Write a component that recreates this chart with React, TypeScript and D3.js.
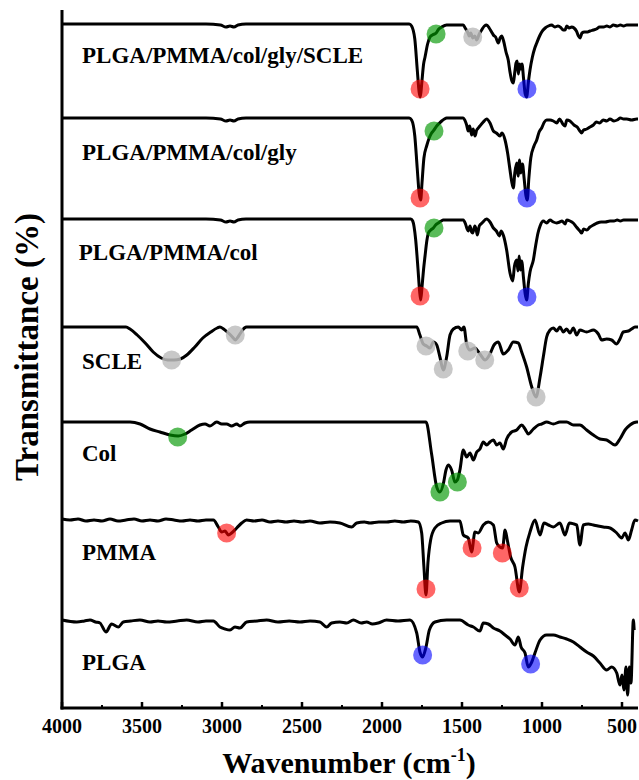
import React from "react";
import * as d3 from "d3";

// ---------- data ----------
const xDomain: [number, number] = [4000, 400];
const majorTicks = [4000, 3500, 3000, 2500, 2000, 1500, 1000, 500];
const minorTicks = [3750, 3250, 2750, 2250, 1750, 1250, 750];

const seriesNames = [
  "PLGA/PMMA/col/gly/SCLE",
  "PLGA/PMMA/col/gly",
  "PLGA/PMMA/col",
  "SCLE",
  "Col",
  "PMMA",
  "PLGA",
];
// baseline transmittance level of each stacked spectrum (a.u.)
const baselines = [684, 590, 489, 381, 286, 189, 88];
// label level (a.u.)
const labelLevels = [645, 548, 448, 339, 247, 148, 38];
const labelX = [4000, 4000, 4020, 4000, 4000, 4000, 4000];

// spectra: [wavenumber, depth below baseline (a.u.)]
const specScleComposite: [number, number][] = [
  [4000, 0], [3600, 0], [3100, 0], [3010, 1], [2975, 3], [2950, 2], [2925, 3], [2900, 1], [2850, 0],
  [1830, 0], [1815, 2], [1795, 15], [1780, 45], [1768, 68], [1760, 73], [1752, 60], [1740, 40],
  [1731, 33], [1715, 20], [1700, 13], [1685, 11], [1662, 9], [1645, 5], [1627, 3], [1596, 1],
  [1492, 1], [1480, 4], [1465, 8], [1455, 12], [1445, 9], [1433, 14], [1420, 12], [1408, 16],
  [1392, 10], [1377, 6], [1360, 2], [1346, 1], [1330, 4], [1315, 8], [1304, 11], [1290, 13],
  [1273, 19], [1262, 14], [1252, 12], [1240, 17], [1225, 28], [1211, 36], [1200, 48], [1190, 56],
  [1179, 59], [1170, 48], [1162, 39], [1155, 37], [1148, 50], [1140, 40], [1133, 45], [1125, 40],
  [1115, 55], [1105, 70], [1096, 73], [1085, 58], [1075, 46], [1060, 33], [1045, 24], [1033, 19],
  [1015, 12], [1002, 8], [980, 4], [960, 2], [940, 1], [920, 3], [900, 2], [880, 4], [868, 6],
  [856, 6], [845, 2], [830, 4], [815, 3], [800, 4], [785, 7], [772, 12], [762, 14], [750, 9],
  [735, 8], [715, 8], [700, 7], [680, 6], [660, 5], [640, 3], [615, 3], [595, 2], [575, 3],
  [554, 1], [530, 2], [510, 1], [490, 2], [470, 1], [440, 1], [408, 1], [400, 1],
];
const specColGly: [number, number][] = [
  [4000, 0], [3600, 0], [3100, 0], [3010, 1], [2975, 3], [2950, 2], [2925, 3], [2900, 1], [2850, 0],
  [1830, 0], [1815, 2], [1795, 18], [1780, 50], [1768, 75], [1758, 82], [1750, 65], [1738, 40],
  [1721, 28], [1705, 20], [1690, 15], [1675, 12], [1658, 8], [1640, 5], [1627, 3], [1610, 1],
  [1596, 0], [1492, 0], [1480, 3], [1471, 7], [1461, 13], [1452, 8], [1440, 17], [1430, 11],
  [1419, 18], [1408, 12], [1398, 10], [1388, 8], [1367, 4], [1346, 1], [1325, 5], [1304, 13],
  [1285, 15], [1263, 18], [1250, 15], [1231, 22], [1215, 35], [1200, 52], [1190, 63], [1179, 70],
  [1170, 55], [1158, 45], [1150, 58], [1140, 42], [1133, 55], [1122, 46], [1112, 60], [1100, 78],
  [1092, 82], [1082, 60], [1070, 40], [1050, 28], [1033, 22], [1018, 14], [1002, 10], [985, 4],
  [971, 2], [950, 2], [929, 3], [908, 5], [890, 1], [870, 6], [856, 8], [845, 2], [825, 3],
  [800, 7], [780, 9], [763, 13], [752, 15], [740, 12], [720, 11], [700, 9], [679, 7], [660, 4],
  [640, 5], [617, 2], [595, 3], [575, 1], [550, 3], [530, 2], [510, 0], [490, 1], [470, 1],
  [440, 2], [408, 1], [400, 1],
];
const specCol3: [number, number][] = [
  [4000, 0], [3600, 0], [3100, 0], [3010, 1], [2975, 3], [2950, 2], [2925, 3], [2900, 1], [2850, 0],
  [1820, 0], [1808, 2], [1790, 20], [1775, 50], [1765, 72], [1758, 81], [1750, 68], [1740, 50],
  [1731, 37], [1720, 22], [1710, 14], [1695, 11], [1679, 9], [1665, 6], [1648, 4], [1630, 2],
  [1617, 1], [1492, 1], [1478, 5], [1468, 10], [1461, 12], [1450, 7], [1440, 13], [1433, 14],
  [1420, 7], [1412, 10], [1404, 16], [1392, 7], [1375, 4], [1346, 0], [1325, 3], [1304, 9],
  [1285, 12], [1267, 17], [1255, 12], [1240, 17], [1221, 31], [1200, 54], [1183, 62], [1172, 47],
  [1158, 41], [1150, 52], [1143, 37], [1135, 51], [1127, 42], [1115, 60], [1105, 75], [1096, 81],
  [1085, 64], [1075, 53], [1054, 41], [1040, 27], [1025, 14], [1012, 7], [992, 2], [971, 4],
  [950, 1], [929, 3], [908, 4], [890, 3], [875, 2], [856, 5], [845, 1], [825, 2], [805, 4],
  [785, 8], [763, 12], [752, 14], [740, 10], [720, 11], [700, 8], [679, 6], [655, 4], [630, 3],
  [605, 3], [575, 2], [550, 2], [530, 1], [510, 2], [490, 1], [470, 1], [440, 1], [408, 1], [400, 1],
];
const specScle: [number, number][] = [
  [4000, 0], [3600, 0], [3575, 2], [3530, 8], [3480, 16], [3430, 25], [3380, 31], [3340, 33],
  [3300, 33], [3260, 32], [3220, 28], [3170, 20], [3120, 11], [3070, 5], [3030, 1], [3013, 0],
  [2990, 2], [2960, 6], [2935, 10], [2917, 13], [2900, 10], [2880, 5], [2860, 1], [2846, 0],
  [1783, 0], [1763, 8], [1742, 17], [1721, 19], [1700, 21], [1679, 15], [1658, 18], [1638, 30],
  [1617, 43], [1596, 30], [1575, 8], [1554, 2], [1523, 0], [1502, 3], [1488, 0], [1471, 17],
  [1450, 23], [1419, 21], [1388, 27], [1356, 33], [1325, 27], [1300, 18], [1273, 15], [1242, 27],
  [1211, 23], [1179, 15], [1148, 16], [1127, 25], [1096, 40], [1064, 60], [1037, 70], [1012, 50],
  [992, 30], [971, 10], [950, 3], [929, 1], [908, 4], [888, 0], [867, 5], [846, 2], [825, 6],
  [804, 1], [783, 8], [763, 3], [721, 5], [679, 3], [648, 7], [627, 13], [596, 12], [565, 13],
  [533, 17], [513, 12], [492, 5], [460, 4], [440, 2], [419, 0], [400, 0],
];
const specCol: [number, number][] = [
  [4000, 0], [3575, 0], [3512, 2], [3450, 7], [3388, 10], [3325, 13], [3273, 14], [3231, 12],
  [3190, 8], [3138, 3], [3106, 2], [3075, 4], [3033, 0], [3002, 2], [2971, 2], [2940, 4],
  [2908, 2], [2888, 4], [2856, 1], [2825, 0], [1725, 0], [1690, 32], [1658, 65], [1638, 70],
  [1617, 62], [1600, 48], [1586, 43], [1565, 48], [1544, 60], [1529, 58], [1513, 48], [1492, 28],
  [1471, 35], [1450, 31], [1429, 38], [1408, 30], [1388, 27], [1367, 20], [1346, 23], [1325, 20],
  [1304, 18], [1283, 23], [1263, 21], [1242, 27], [1221, 17], [1190, 10], [1158, 8], [1127, 3],
  [1106, 7], [1086, 12], [1054, 7], [1023, 3], [1002, 2], [971, 0], [929, 2], [888, 0], [846, 0],
  [804, 3], [763, 3], [721, 8], [679, 13], [638, 17], [596, 18], [544, 23], [513, 17], [481, 8],
  [450, 3], [408, 0], [400, 0],
];
const specPmma: [number, number][] = [
  [4000, 0], [3950, 1], [3900, 0], [3850, 2], [3800, 1], [3750, 2], [3700, 0], [3650, 2],
  [3600, 1], [3550, 0], [3500, 2], [3450, 1], [3400, 2], [3350, 0], [3300, 1], [3250, 2],
  [3200, 1], [3150, 2], [3100, 1], [3054, 1], [3023, 8], [3002, 13], [2981, 12], [2960, 16],
  [2940, 14], [2908, 9], [2877, 4], [2846, 1], [2800, 2], [2750, 1], [2700, 3], [2650, 2],
  [2600, 3], [2550, 2], [2500, 3], [2450, 2], [2388, 4], [2325, 3], [2263, 4], [2190, 8],
  [2158, 4], [2110, 3], [2075, 4], [2020, 3], [1971, 3], [1920, 2], [1867, 3], [1820, 2],
  [1773, 3], [1752, 14], [1738, 48], [1725, 76], [1713, 44], [1696, 21], [1669, 9], [1627, 4],
  [1575, 2], [1513, 2], [1492, 16], [1461, 19], [1440, 33], [1419, 13], [1398, 14], [1367, 6],
  [1336, 3], [1304, 6], [1283, 24], [1263, 28], [1246, 29], [1231, 11], [1217, 21], [1196, 38],
  [1169, 48], [1142, 73], [1121, 48], [1100, 28], [1075, 13], [1044, 1], [1012, 16], [988, 4],
  [960, 6], [929, 8], [888, 4], [856, 16], [829, 4], [800, 5], [783, 6], [763, 26], [742, 6],
  [710, 5], [679, 6], [650, 7], [617, 8], [575, 9], [533, 14], [502, 19], [481, 14], [460, 21],
  [440, 11], [419, 1], [400, 2],
];
const specPlga: [number, number][] = [
  [4000, 0], [3908, 2], [3860, 1], [3825, 0], [3790, 2], [3763, 3], [3725, 12], [3690, 4],
  [3648, 7], [3617, 2], [3570, 1], [3513, 0], [3450, 2], [3400, 1], [3346, 2], [3280, 1],
  [3221, 0], [3150, 2], [3100, 1], [3054, 1], [3013, 7], [2981, 9], [2950, 10], [2919, 7],
  [2888, 8], [2846, 2], [2780, 1], [2721, 0], [2650, 2], [2580, 1], [2513, 2], [2450, 1],
  [2388, 2], [2346, 7], [2315, 3], [2263, 2], [2220, 3], [2179, 0], [2130, 3], [2096, 2],
  [2060, 4], [2023, 3], [1971, 0], [1900, 1], [1825, 0], [1783, 13], [1763, 32], [1746, 37],
  [1725, 27], [1704, 10], [1669, 2], [1596, 0], [1513, 0], [1461, 5], [1429, 7], [1388, 11],
  [1367, 3], [1336, 4], [1304, 8], [1263, 11], [1231, 15], [1200, 19], [1169, 25], [1148, 17],
  [1131, 27], [1106, 33], [1086, 47], [1064, 42], [1044, 33], [1012, 20], [971, 15], [929, 15],
  [888, 17], [846, 19], [804, 22], [763, 27], [721, 32], [679, 36], [638, 43], [596, 50],
  [565, 47], [533, 53], [513, 65], [500, 55], [488, 70], [475, 47], [465, 75], [454, 47],
  [444, 63], [429, 0], [424, 10],
];
const spectra = [specScleComposite, specColGly, specCol3, specScle, specCol, specPmma, specPlga];

// marker annotations: [series index, wavenumber, depth, group]
const markers: [number, number, number, string][] = [
  [0, 1762, 65, "red"], [0, 1662, 10, "green"], [0, 1433, 13, "grey"], [0, 1094, 65, "blue"],
  [1, 1762, 80, "red"], [1, 1675, 13, "green"], [1, 1094, 80, "blue"],
  [2, 1762, 77, "red"], [2, 1675, 9, "green"], [2, 1094, 78, "blue"],
  [3, 3315, 33, "grey"], [3, 2917, 8, "grey"], [3, 1725, 19, "grey"], [3, 1617, 42, "grey"],
  [3, 1464, 24, "grey"], [3, 1358, 33, "grey"], [3, 1037, 70, "grey"],
  [4, 3277, 15, "green"], [4, 1638, 70, "green"], [4, 1529, 60, "green"],
  [5, 2971, 14, "red"], [5, 1725, 70, "red"], [5, 1437, 29, "red"], [5, 1248, 34, "red"], [5, 1142, 69, "red"],
  [6, 1746, 35, "blue"], [6, 1071, 44, "blue"],
];
const markerColors: Record<string, { fill: string; op: number }> = {
  red: { fill: "rgb(255,0,0)", op: 0.6 },
  green: { fill: "rgb(0,150,0)", op: 0.65 },
  blue: { fill: "rgb(0,0,255)", op: 0.6 },
  grey: { fill: "rgb(190,190,190)", op: 0.85 },
};

// ---------- chart ----------
const W = 639;
const H = 780;
const left = 62;
const right = 638;
const top = 10;
const bottom = 708;
const FONT = "'Liberation Serif', 'Times New Roman', serif";

export default function App() {
  const x = d3.scaleLinear().domain(xDomain).range([left, right]);
  const y = d3.scaleLinear().domain([0, bottom - top]).range([bottom, top]);
  const line = d3
    .line<[number, number]>()
    .x((d) => x(d[0]))
    .y((d) => d[1])
    .curve(d3.curveMonotoneX);

  return (
    <svg
      width={W}
      height={H}
      style={{ position: "absolute", left: 0, top: 0, background: "#fff" }}
      fontFamily={FONT}
    >
      <rect x={0} y={0} width={W} height={H} fill="#fff" />
      {spectra.map((s, i) => (
        <path
          key={"s" + i}
          d={line(s.map((p) => [p[0], y(baselines[i] - p[1])]) as [number, number][]) || ""}
          fill="none"
          stroke="#000"
          strokeWidth={3}
          strokeLinejoin="round"
        />
      ))}
      {markers.map((m, i) => (
        <circle
          key={"m" + i}
          cx={x(m[1])}
          cy={y(baselines[m[0]] - m[2])}
          r={9.5}
          fill={markerColors[m[3]].fill}
          fillOpacity={markerColors[m[3]].op}
        />
      ))}
      {seriesNames.map((n, i) => (
        <text
          key={"l" + i}
          x={x(labelX[i]) + 20}
          y={y(labelLevels[i])}
          fontSize={23}
          fontWeight="bold"
          fill="#000"
        >
          {n}
        </text>
      ))}
      {/* axes */}
      <line x1={left} x2={left} y1={top} y2={bottom + 1.5} stroke="#000" strokeWidth={3} />
      <line x1={left - 1.5} x2={right} y1={bottom} y2={bottom} stroke="#000" strokeWidth={3} />
      {majorTicks.map((t) => (
        <g key={"t" + t}>
          <line x1={x(t)} x2={x(t)} y1={bottom} y2={bottom - 6} stroke="#000" strokeWidth={2.5} />
          <text
            x={x(t)}
            y={733}
            textAnchor="middle"
            fontSize={20}
            fontWeight="bold"
            fill="#000"
          >
            {t}
          </text>
        </g>
      ))}
      {minorTicks.map((t) => (
        <line key={"mt" + t} x1={x(t)} x2={x(t)} y1={bottom} y2={bottom - 3} stroke="#000" strokeWidth={2} />
      ))}
      <text
        x={349}
        y={773}
        textAnchor="middle"
        fontSize={30}
        fontWeight="bold"
        fill="#000"
      >
        Wavenumber (cm
        <tspan fontSize={18} dy={-12}>-1</tspan>
        <tspan dy={12}>)</tspan>
      </text>
      <text
        transform={`translate(38, 347) rotate(-90)`}
        textAnchor="middle"
        fontSize={33}
        fontWeight="bold"
        fill="#000"
      >
        Transmittance (%)
      </text>
    </svg>
  );
}
